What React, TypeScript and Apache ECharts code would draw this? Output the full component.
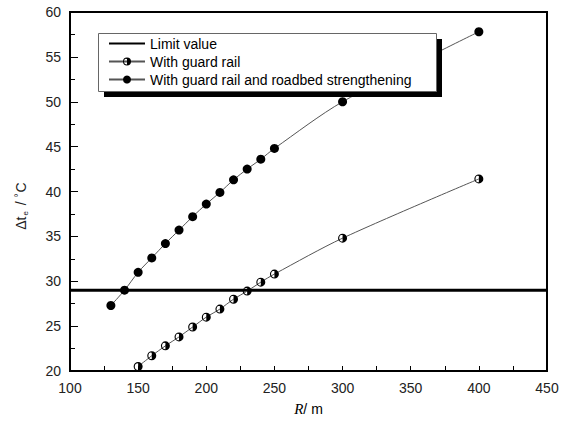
import React, { useEffect, useRef } from "react";
import * as echarts from "echarts";

const xStrong = [130, 140, 150, 160, 170, 180, 190, 200, 210, 220, 230, 240, 250, 300, 400];
const yStrong = [27.3, 29.0, 31.0, 32.6, 34.2, 35.7, 37.2, 38.6, 39.9, 41.3, 42.5, 43.6, 44.8, 50.0, 57.8];

const xGuard = [150, 160, 170, 180, 190, 200, 210, 220, 230, 240, 250, 300, 400];
const yGuard = [20.5, 21.7, 22.8, 23.8, 24.9, 26.0, 26.9, 28.0, 28.9, 29.9, 30.8, 34.8, 41.4];

const limitX = [100, 450];
const limitValue = 29;

const seriesNames = ["Limit value", "With guard rail", "With guard rail and roadbed strengthening"];

const halfCircle =
  "path://M10 0A10 10 0 0 1 10 20Z M10 0A10 10 0 0 0 10 20L10 17.5A7.5 7.5 0 0 1 10 2.5Z";

const FONT = "Liberation Sans, Arial, sans-serif";

export default function App() {
  const ref = useRef<HTMLDivElement>(null);
  useEffect(() => {
    if (!ref.current) return;
    const chart = echarts.init(ref.current, undefined, { renderer: "svg" });
    chart.setOption({
      animation: false,
      backgroundColor: "#fff",
      textStyle: { fontFamily: FONT },
      grid: {
        left: 70,
        right: 16,
        top: 12,
        bottom: 52,
        show: true,
        borderColor: "#000",
        borderWidth: 2,
        backgroundColor: "transparent",
      },
      xAxis: {
        type: "value",
        min: 100,
        max: 450,
        interval: 50,
        name: "{i|R}/ m",
        nameLocation: "middle",
        nameGap: 30,
        nameTextStyle: {
          fontSize: 14,
          color: "#000",
          rich: {
            i: { fontStyle: "italic", fontFamily: "Liberation Serif, serif", fontSize: 15, color: "#000" },
          },
        },
        axisLine: { show: true, onZero: false, lineStyle: { color: "#000", width: 2 } },
        axisTick: { show: true, inside: true, length: 5, lineStyle: { color: "#000", width: 1 } },
        minorTick: { show: true, splitNumber: 2, length: 5, lineStyle: { color: "#000", width: 1 } },
        axisLabel: { fontSize: 14, color: "#222", margin: 10, fontFamily: FONT },
        splitLine: { show: false },
      },
      yAxis: {
        type: "value",
        min: 20,
        max: 60,
        interval: 5,
        axisLine: { show: true, onZero: false, lineStyle: { color: "#000", width: 2 } },
        axisTick: { show: true, inside: true, length: 8, lineStyle: { color: "#000", width: 1 } },
        minorTick: { show: true, splitNumber: 2, length: 5, lineStyle: { color: "#000", width: 1 } },
        axisLabel: { fontSize: 14, color: "#222", margin: 9, fontFamily: FONT },
        splitLine: { show: false },
      },
      legend: {
        orient: "vertical",
        left: 108,
        top: 36,
        padding: 0,
        itemGap: 3,
        itemWidth: 36,
        itemHeight: 10,
        z: 20,
        data: [
          { name: seriesNames[0], itemStyle: { opacity: 0 } },
          { name: seriesNames[1] },
          { name: seriesNames[2] },
        ],
        textStyle: { fontSize: 14, color: "#000", fontFamily: FONT, lineHeight: 15 },
      },
      graphic: [
        { type: "rect", z: 10, shape: { x: 104, y: 39, width: 338, height: 58 }, style: { fill: "#000" } },
        {
          type: "rect",
          z: 11,
          shape: { x: 98.5, y: 33.5, width: 338, height: 58 },
          style: { fill: "#fff", stroke: "#666", lineWidth: 1 },
        },
        {
          type: "text",
          z: 12,
          x: 21,
          y: 206,
          rotation: Math.PI / 2,
          style: {
            text: "{a|Δt}{s|e}{a| / }{d|°}{a|C}",
            align: "center",
            verticalAlign: "middle",
            fill: "#222",
            rich: {
              a: { fontSize: 14, fontFamily: FONT, fill: "#222", verticalAlign: "middle" },
              s: { fontSize: 8, fontFamily: FONT, fill: "#222", padding: [8, 2, 0, 1] },
              d: { fontSize: 10, fontFamily: FONT, fill: "#222", padding: [0, 1, 6, 0] },
            },
          },
        },
      ],
      series: [
        {
          name: seriesNames[0],
          type: "line",
          data: limitX.map((x) => [x, limitValue]),
          symbol: "none",
          lineStyle: { color: "#000", width: 3 },
          itemStyle: { color: "#000" },
          z: 3,
        },
        {
          name: seriesNames[1],
          type: "line",
          data: xGuard.map((x, i) => [x, yGuard[i]]),
          smooth: 0.3,
          symbol: halfCircle,
          symbolSize: 9,
          lineStyle: { color: "#555", width: 1 },
          itemStyle: { color: "#000" },
          z: 4,
        },
        {
          name: seriesNames[2],
          type: "line",
          data: xStrong.map((x, i) => [x, yStrong[i]]),
          smooth: 0.3,
          symbol: "circle",
          symbolSize: 9,
          lineStyle: { color: "#555", width: 1 },
          itemStyle: { color: "#000" },
          z: 4,
        },
      ],
    });
    return () => chart.dispose();
  }, []);
  return (
    <div
      ref={ref}
      style={{ position: "absolute", left: 0, top: 0, width: 563, height: 423 }}
    />
  );
}
